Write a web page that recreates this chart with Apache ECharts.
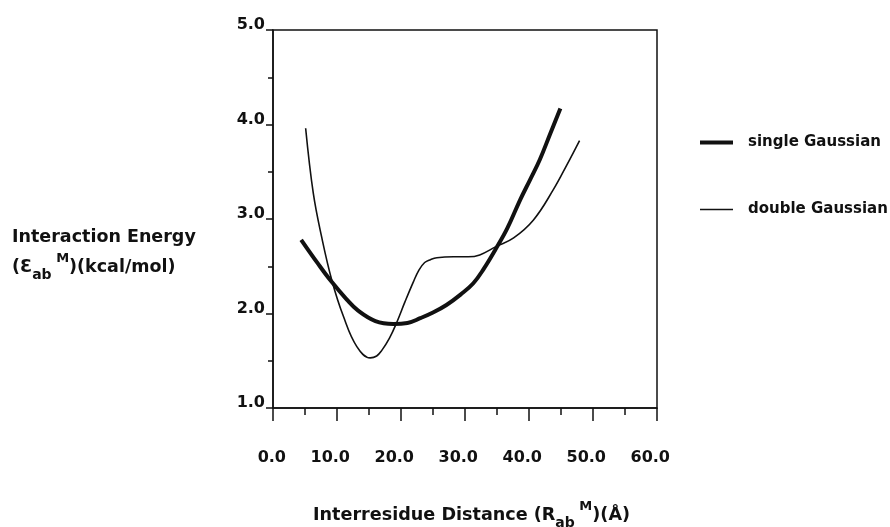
<!DOCTYPE html>
<html>
<head>
<meta charset="utf-8">
<script src="https://cdn.jsdelivr.net/npm/echarts@6/dist/echarts.min.js"></script>
<style>
  html, body { margin: 0; padding: 0; background: #fff; }
  #chart { width: 890px; height: 527px; }
</style>
</head>
<body>
<div id="chart"></div>
<script>
// curves: [distance (Å), energy (kcal/mol)]
var singleGaussian = [
  [4.4, 2.78], [7.0, 2.53], [9.1, 2.34], [11.5, 2.15], [13.3, 2.03], [16.0, 1.92],
  [18.8, 1.89], [21.0, 1.90], [23.0, 1.95], [25.0, 2.01], [27.1, 2.09], [29.3, 2.20],
  [31.3, 2.32], [33.0, 2.48], [34.7, 2.67], [36.6, 2.90], [38.6, 3.20], [40.2, 3.42],
  [41.7, 3.63], [43.3, 3.90], [44.9, 4.17]
];
var doubleGaussian = [
  [5.1, 3.96], [6.3, 3.27], [7.6, 2.81], [9.2, 2.35], [11.0, 1.97],
  [13.1, 1.65], [15.2, 1.53], [16.2, 1.55], [17.0, 1.61], [18.2, 1.74],
  [19.3, 1.90], [20.6, 2.12], [21.9, 2.33], [22.8, 2.46], [23.7, 2.54], [24.6, 2.57],
  [25.6, 2.59], [28.2, 2.60], [30.5, 2.60], [32.3, 2.62], [34.9, 2.71], [37.6, 2.80],
  [40.7, 2.99], [43.8, 3.31], [45.9, 3.57], [47.9, 3.83]
];
var seriesNames = ['single Gaussian', 'double Gaussian'];

var font = 'DejaVu Sans';
var ink = '#111';

// rich styles for sub / superscripts in the axis titles
function titleRich(size) {
  return {
    n:   { fontFamily: font, fontWeight: 'bold', fontSize: size, lineHeight: 30, color: ink },
    sub: { fontFamily: font, fontWeight: 'bold', fontSize: 14, lineHeight: 20, verticalAlign: 'bottom', color: ink },
    sup: { fontFamily: font, fontWeight: 'bold', fontSize: 13, lineHeight: 17, verticalAlign: 'top', color: ink }
  };
}

var option = {
  backgroundColor: '#fff',
  animation: false,
  grid: {
    left: 273, right: 233, top: 30, bottom: 119,
    show: true, borderColor: ink, borderWidth: 1.5
  },
  title: [
    { // y title
      left: 12, top: 222, padding: 0,
      text: '{n|Interaction Energy}\n{n|(Ɛ}{sub|ab}{sup| M}{n|)(kcal/mol)}',
      textStyle: { rich: titleRich(17.5) }
    },
    { // x title
      left: 313, top: 500, padding: 0,
      text: '{n|Interresidue Distance (R}{sub|ab}{sup| M}{n|)(Å)}',
      textStyle: { rich: titleRich(17.6) }
    }
  ],
  legend: {
    orient: 'vertical',
    left: 700, top: 135, padding: 0,
    itemWidth: 33, itemHeight: 14, itemGap: 52,
    data: [
      { name: seriesNames[0], icon: 'path://M0,0h33v4h-33z' },
      { name: seriesNames[1], icon: 'path://M0,0h33v1.6h-33z' }
    ],
    textStyle: { fontFamily: font, fontWeight: 'bold', fontSize: 15, color: ink, padding: [0, 0, 0, 10] }
  },
  xAxis: {
    type: 'value', min: 0, max: 60, interval: 10,
    axisLine: { lineStyle: { color: ink, width: 1.5 } },
    axisTick: { length: 13, lineStyle: { color: ink, width: 1.5 } },
    minorTick: { show: true, splitNumber: 2, length: 7, lineStyle: { color: ink, width: 1.5 } },
    splitLine: { show: false },
    axisLabel: {
      margin: 42, align: 'right', padding: [0, -13, 0, 0],
      fontFamily: font, fontWeight: 'bold', fontSize: 16, color: ink,
      formatter: function (v) { return v.toFixed(1); }
    }
  },
  yAxis: {
    type: 'value', min: 1, max: 5, interval: 1,
    axisLine: { lineStyle: { color: ink, width: 1.5 } },
    axisTick: { length: 7, lineStyle: { color: ink, width: 1.5 } },
    minorTick: { show: true, splitNumber: 2, length: 5, lineStyle: { color: ink, width: 1.5 } },
    splitLine: { show: false },
    axisLabel: {
      margin: 8, verticalAlign: 'bottom', lineHeight: 10,
      fontFamily: font, fontWeight: 'bold', fontSize: 16, color: ink,
      formatter: function (v) { return v.toFixed(1); }
    }
  },
  series: [
    {
      name: seriesNames[0], type: 'line', data: singleGaussian,
      smooth: 0.4, symbol: 'none',
      lineStyle: { color: ink, width: 4 }, itemStyle: { color: ink }
    },
    {
      name: seriesNames[1], type: 'line', data: doubleGaussian,
      smooth: 0.4, symbol: 'none',
      lineStyle: { color: ink, width: 1.6 }, itemStyle: { color: ink }
    }
  ]
};

var myChart = echarts.init(document.getElementById('chart'));
myChart.setOption(option);
</script>
</body>
</html>
